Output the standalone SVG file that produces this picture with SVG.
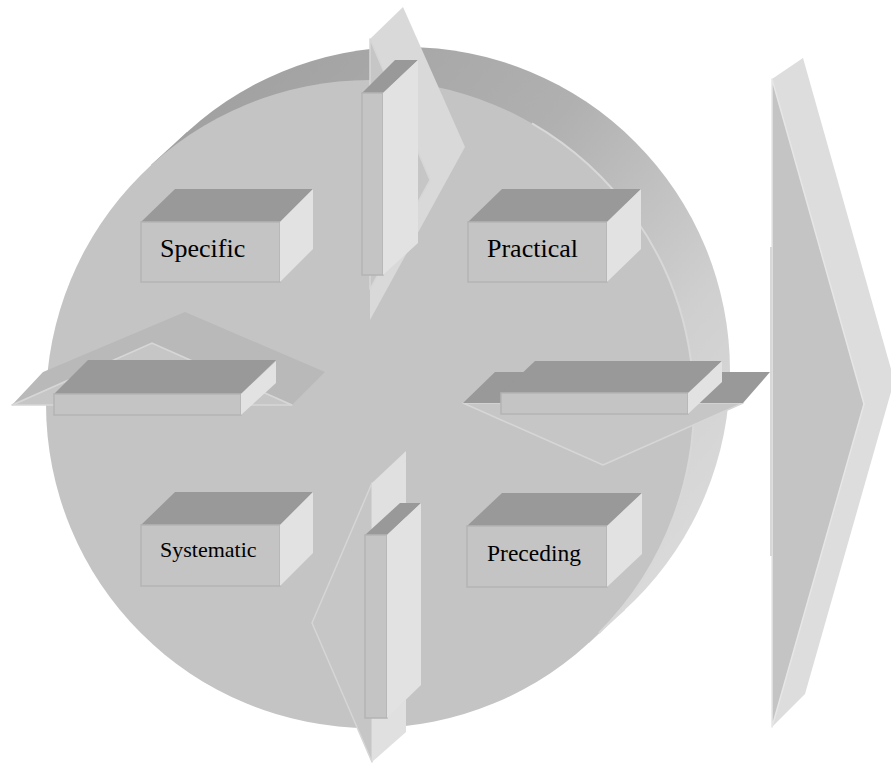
<svg xmlns="http://www.w3.org/2000/svg" width="891" height="763" viewBox="0 0 891 763">
<defs>
<linearGradient id="rim" gradientUnits="userSpaceOnUse" x1="150" y1="80" x2="720" y2="560">
<stop offset="0" stop-color="#9e9e9e"/>
<stop offset="0.45" stop-color="#b0b0b0"/>
<stop offset="0.75" stop-color="#cfcfcf"/>
<stop offset="1" stop-color="#dcdcdc"/>
</linearGradient>
<style>
.top{fill:#999999}
.front{fill:#c4c4c4;stroke:#b4b4b4;stroke-width:1.5}
.side{fill:#e2e2e2}
.lbl{fill:#000000}
.base{fill:#c6c6c6;stroke:#d6d6d6;stroke-width:1.5;stroke-linejoin:round}
.edge{fill:none;stroke:#d6d6d6;stroke-width:1.5}
</style>
</defs>
<rect width="891" height="763" fill="#ffffff"/>

<g id="disc">
<circle cx="406" cy="371" r="324" fill="url(#rim)"/>
<polygon points="151,165 187,132 625,610 589,643" fill="url(#rim)"/>
<circle cx="370" cy="404" r="324" fill="#c4c4c4"/>
<path d="M532,123.4 A324,324 0 0 1 599,633" fill="none" stroke="#d8d8d8" stroke-width="2"/>
</g>

<g id="big-arrow">
<polygon points="772,79 803,58 891,369 891,392 805,694 772,727" fill="#dddddd"/>
<polygon points="772,79 864,404 772,727" fill="#c4c4c4" stroke="#e6e6e6" stroke-width="1.5" stroke-linejoin="round"/>
<rect x="770" y="247" width="2" height="309" fill="#d8d8d8"/>
</g>

<g id="connectors">
<g id="arrow-top">
<polygon points="370,39 403,7 465,147 370,320" fill="#d9d9d9"/>
<polygon class="base" points="370,39 430,180 370,289"/>
<polygon class="top" points="362,93 383,93 418,60 395,60"/>
<rect class="front" x="362" y="93" width="21" height="182"/>
<polygon class="side" points="383,93 418,60 418,243 383,275"/>
</g>
<g id="arrow-left">
<polygon class="base" points="12,405 152,343 292,405"/>
<polygon points="12,405 43,372 185,312 325,372 292,405 152,343" fill="#b9b9b9"/>
<polyline class="edge" points="12,405 152,343 292,405"/>
<polygon class="top" points="88,360 276,360 241,394 54,394"/>
<rect class="front" x="54" y="394" width="187" height="21"/>
<polygon class="side" points="241,394 276,361 276,383 241,415"/>
</g>
<g id="arrow-right">
<polygon class="base" points="463,403 603,465 743,403"/>
<polygon class="top" points="495,372 770,372 743,403 463,403"/>
<polygon class="top" points="535,361 722,361 688,393 501,393"/>
<rect class="front" x="501" y="393" width="187" height="21"/>
<polygon class="side" points="688,393 722,361 722,382 688,414"/>
</g>
<g id="arrow-bottom">
<polygon class="base" points="372,483 312,623 372,762"/>
<polygon points="372,483 406,451 406,732 372,762" fill="#e0e0e0"/>
<polygon class="top" points="365,535 387,535 421,503 400,503"/>
<rect class="front" x="365" y="535" width="22" height="183"/>
<polygon class="side" points="387,535 421,503 421,685 387,718"/>
</g>
</g>

<g id="node-specific">
<polygon class="top" points="141,222 280,222 313,189 175,189"/>
<rect class="front" x="141" y="222" width="139" height="60"/>
<polygon class="side" points="280,222 313,189 313,249 280,282"/>
<text class="lbl" x="160" y="257" font-size="26" font-family="Liberation Serif, DejaVu Serif, serif">Specific</text>
</g>
<g id="node-practical">
<polygon class="top" points="468,222 607,222 641,189 502,189"/>
<rect class="front" x="468" y="222" width="139" height="60"/>
<polygon class="side" points="607,222 641,189 641,249 607,282"/>
<text class="lbl" x="487" y="257" font-size="26" font-family="Liberation Serif, DejaVu Serif, serif">Practical</text>
</g>
<g id="node-systematic">
<polygon class="top" points="141,525 280,525 313,492 175,492"/>
<rect class="front" x="141" y="525" width="139" height="61"/>
<polygon class="side" points="280,525 313,492 313,553 280,586"/>
<text class="lbl" x="160" y="557" font-size="22" font-family="Liberation Serif, DejaVu Serif, serif">Systematic</text>
</g>
<g id="node-preceding">
<polygon class="top" points="467,526 607,526 642,493 502,493"/>
<rect class="front" x="467" y="526" width="140" height="61"/>
<polygon class="side" points="607,526 642,493 642,554 607,587"/>
<text class="lbl" x="487" y="561" font-size="23.5" font-family="Liberation Serif, DejaVu Serif, serif">Preceding</text>
</g>
</svg>
